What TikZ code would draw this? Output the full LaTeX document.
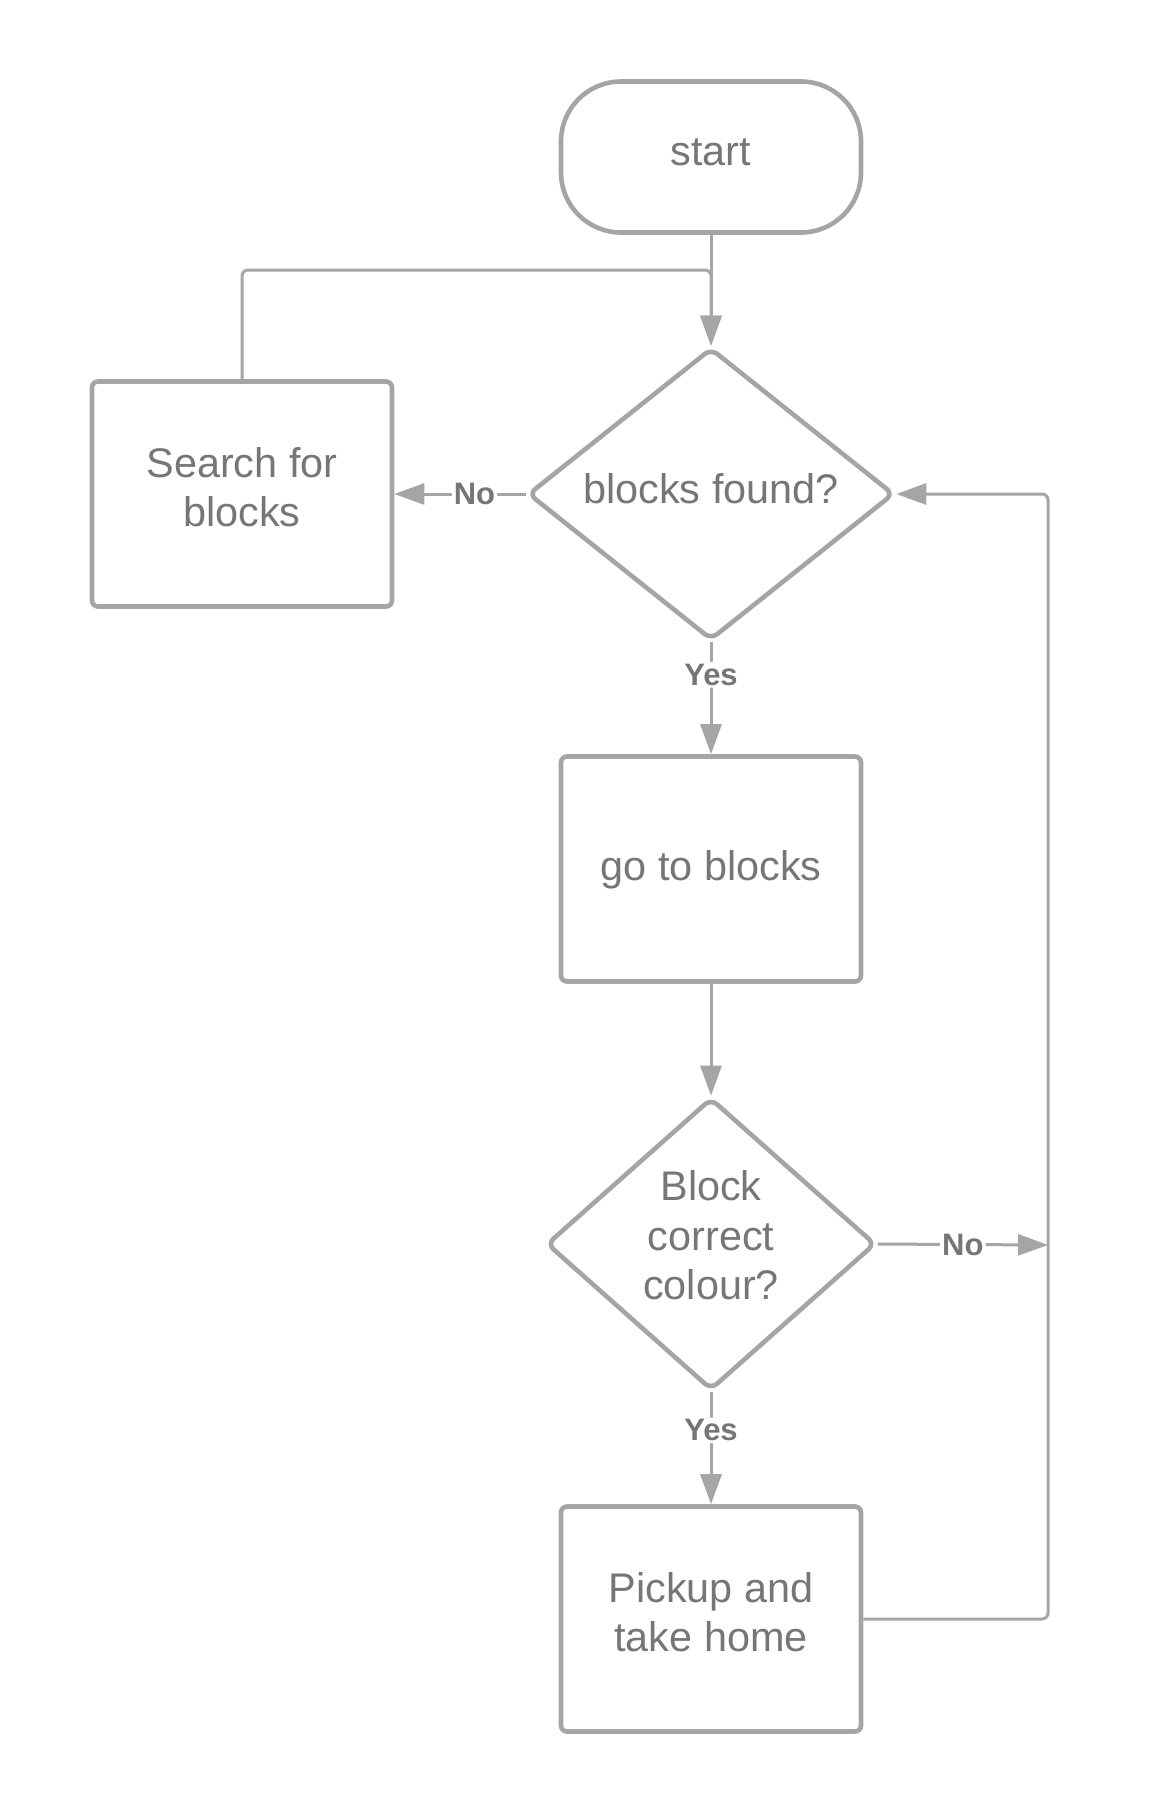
\documentclass[tikz,border=0pt]{standalone}
\usepackage{fontspec}
\setmainfont{Liberation Sans}
\usetikzlibrary{shapes.geometric,positioning,arrows.meta}
\definecolor{linegray}{HTML}{A5A5A5}
\definecolor{textgray}{HTML}{767676}

\begin{document}
\begin{tikzpicture}[x=0.5pt,y=-0.5pt,node distance=187.5pt,on grid,
    every node/.style={text=textgray,font=\fontsize{20.7}{24.8}\selectfont},
    terminal/.style={draw=linegray,line width=2.3pt,rounded corners=30pt,minimum width=150pt,minimum height=75.5pt,text depth=5pt},
    process/.style={draw=linegray,line width=2.3pt,rounded corners=3pt,minimum width=150pt,minimum height=112.5pt,align=center,text depth=7pt},
    decision/.style={diamond,draw=linegray,line width=2.3pt,rounded corners=4pt,inner sep=0pt,aspect=1.2,align=center,text depth=6pt},
    flow/.style={draw=linegray,line width=1.5pt,-{Triangle[length=15pt,width=10.5pt]},rounded corners=3pt},
    lbl/.style={fill=white,inner sep=1pt,font=\bfseries\fontsize{15.5}{18}\selectfont}]
    \useasboundingbox (0,0) rectangle (1153,1811);

    \node[terminal] (start) at (711,157) {start};
    \node[decision,minimum width=183pt,minimum height=146pt] (found) [below=168.5pt of start] {blocks found?};
    \node[process] (search) [left=234.5pt of found] {Search for\\blocks};
    \node[process,text depth=4pt] (goto) [below=of found] {go to blocks};
    \node[decision,minimum width=164.5pt,minimum height=146pt,text depth=9pt] (colour) [below=of goto] {Block\\correct\\colour?};
    \node[process] (pickup) [below=of colour] {Pickup and\\take home};

    \coordinate (top) at (711,270);
    \coordinate (rside) at (1048,1245);

    \draw[flow] (start) -- (found);
    \draw[flow] (search.north) |- (top) -- (found.north);
    \draw[flow] (found.west) -- node[lbl,pos=0.39] {No} (search.east);
    \draw[flow] (found) -- node[lbl,pos=0.29] {Yes} (goto);
    \draw[flow] (goto) -- (colour);
    \draw[flow] (colour) -- node[lbl,pos=0.34] {Yes} (pickup);
    \draw[flow] (colour.east) -- node[lbl] {No} (rside);
    \draw[flow] (pickup.east) -| (found.east -| rside) -- (found.east);
\end{tikzpicture}
\end{document}
